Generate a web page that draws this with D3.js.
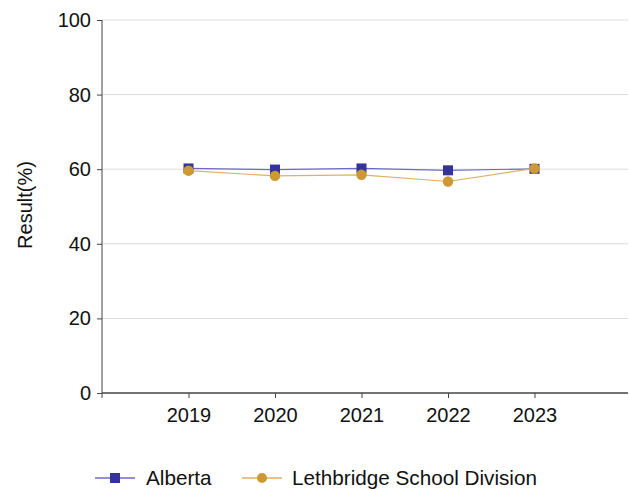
<!DOCTYPE html>
<html><head><meta charset="utf-8">
<script src="https://cdn.jsdelivr.net/npm/d3@7"></script>
<style>body{margin:0;background:#fff}svg{display:block;font-family:"Liberation Sans",Arial,sans-serif}</style>
</head><body><svg id="c" width="629" height="489"></svg>
<script>
const years = [2019, 2020, 2021, 2022, 2023];
const alberta = [60.2, 59.9, 60.2, 59.7, 60.1];
const lethbridge = [59.6, 58.2, 58.5, 56.7, 60.2];
const yTicks = [0, 20, 40, 60, 80, 100];
const seriesNames = ["Alberta", "Lethbridge School Division"];

const svg = d3.select("#c");
const x = d3.scaleLinear().domain([2018, 2024]).range([102, 621]);
const y = d3.scaleLinear().domain([0, 100]).range([393, 20]);
const xEnd = 628;
const FS = 20;

// gridlines
svg.append("g").selectAll("line").data(yTicks.filter(d => d > 0)).join("line")
  .attr("x1", 102).attr("x2", xEnd).attr("y1", d => y(d)).attr("y2", d => y(d))
  .attr("stroke", "#dcdcdc").attr("stroke-width", 1);

// y axis
const ya = svg.append("g").attr("transform", "translate(102,0)")
  .call(d3.axisLeft(y).tickValues(yTicks).tickSize(5).tickPadding(6));
ya.select(".domain").attr("stroke", "#444").attr("d", `M0,${y(100)}V${y(0)+5}`);
ya.selectAll(".tick line").attr("stroke", "#444");
ya.selectAll("text").attr("font-size", FS).attr("fill", "#111").attr("font-family", "Liberation Sans, Arial, sans-serif");

// x axis
const xa = svg.append("g").attr("transform", `translate(0,${y(0)})`)
  .call(d3.axisBottom(x).tickValues(years).tickFormat(d3.format("d")).tickSize(5).tickPadding(10));
xa.select(".domain").attr("stroke", "#444").attr("stroke-width", 1.3).attr("d", `M102,0H${xEnd}`);
xa.selectAll(".tick line").attr("stroke", "#444");
xa.selectAll("text").attr("font-size", FS).attr("fill", "#111").attr("font-family", "Liberation Sans, Arial, sans-serif");

// y label
svg.append("text").attr("transform", `translate(32,205) rotate(-90)`)
  .attr("text-anchor", "middle").attr("font-size", FS).attr("fill", "#111").text("Result(%)");

const blue = "#333399", gold = "#cc9933";
const line = d3.line().x((d, i) => x(years[i])).y(d => y(d));

svg.append("path").datum(alberta).attr("d", line).attr("fill", "none")
  .attr("stroke", "#6b6bc4").attr("stroke-width", 1.2);
svg.append("g").selectAll("rect").data(alberta).join("rect")
  .attr("x", (d, i) => x(years[i]) - 5).attr("y", d => y(d) - 5)
  .attr("width", 10).attr("height", 10).attr("fill", blue);

svg.append("path").datum(lethbridge).attr("d", line).attr("fill", "none")
  .attr("stroke", "#deb068").attr("stroke-width", 1.2);
svg.append("g").selectAll("circle").data(lethbridge).join("circle")
  .attr("cx", (d, i) => x(years[i])).attr("cy", d => y(d)).attr("r", 5.2).attr("fill", gold);

// legend
const lg = svg.append("g");
const items = [{name: seriesNames[0], c: blue, lc: "#6b6bc4", x0: 95, tx: 146, shape: "rect"},
               {name: seriesNames[1], c: gold, lc: "#deb068", x0: 242, tx: 292, shape: "circle"}];
items.forEach(it => {
  lg.append("line").attr("x1", it.x0).attr("x2", it.x0 + 40).attr("y1", 478).attr("y2", 478)
    .attr("stroke", it.lc).attr("stroke-width", 1.5);
  if (it.shape === "rect") lg.append("rect").attr("x", it.x0 + 15).attr("y", 473).attr("width", 10).attr("height", 10).attr("fill", it.c);
  else lg.append("circle").attr("cx", it.x0 + 20).attr("cy", 478).attr("r", 5).attr("fill", it.c);
  lg.append("text").attr("x", it.tx).attr("y", 485).attr("font-size", 20.7).attr("fill", "#111").text(it.name);
});
</script></body></html>
